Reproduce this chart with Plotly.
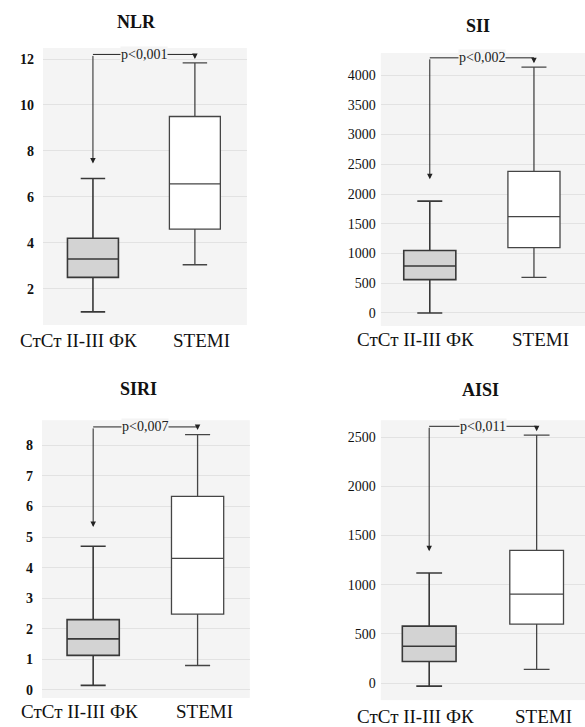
import plotly.graph_objects as go

titles = ["NLR", "SII", "SIRI", "AISI"]
groups = ["СтСт II-III ФК", "STEMI"]
p_texts = ["p<0,001", "p<0,002", "p<0,007", "p<0,011"]

# [СтСт, STEMI] per index
lower_whisker = [[1.0, 3.05], [0, 600], [0.15, 0.8], [-30, 140]]
q1_vals = [[2.5, 4.6], [560, 1100], [1.13, 2.48], [220, 600]]
median_vals = [[3.3, 6.57], [790, 1620], [1.67, 4.3], [375, 905]]
q3_vals = [[4.2, 9.5], [1050, 2380], [2.3, 6.33], [580, 1350]]
upper_whisker = [[6.8, 11.83], [1880, 4135], [4.7, 8.35], [1120, 2520]]

# bracket: left arrow tip, top line, right arrow tip
bracket_left = [7.45, 2250, 5.33, 1340]
bracket_top = [12.2, 4290, 8.6, 2610]
bracket_right = [12.0, 4200, 8.5, 2560]

ytick_vals = [
    [2, 4, 6, 8, 10, 12],
    [0, 500, 1000, 1500, 2000, 2500, 3000, 3500, 4000],
    [0, 1, 2, 3, 4, 5, 6, 7, 8],
    [0, 500, 1000, 1500, 2000, 2500],
]

W, H = 585, 727
x_domains = [[0.0735, 0.422], [0.651, 1.0], [0.0718, 0.427], [0.651, 1.0]]
y_domains = [[0.553, 0.934], [0.5516, 0.927], [0.040, 0.422], [0.037, 0.422]]
x_ranges = [[-0.49, 1.51], [-0.47, 1.49], [-0.49, 1.50], [-0.45, 1.45]]
y_ranges = [[0.43, 12.48], [-219, 4370], [-0.26, 8.82], [-172, 2672]]
title_pos = [(0.2325, 0.970), (0.817, 0.964), (0.2376, 0.465), (0.822, 0.463)]
label_y = [0.531, 0.533, 0.021, 0.015]
tick_bold = [True, False, True, False]

PLOT_BG = "#f4f4f4"
GRID = "#e2e2e2"
SERIF = "Liberation Serif, Times New Roman, serif"

fig = go.Figure()
layout = dict(
    width=W, height=H,
    margin=dict(l=0, r=0, t=0, b=0),
    paper_bgcolor="white",
    plot_bgcolor=PLOT_BG,
    showlegend=False,
)
annotations = []

fills = ["#d3d3d3", "white"]
lines = [dict(color="#383838", width=1.6), dict(color="#454545", width=1.3)]

for i in range(4):
    sfx = "" if i == 0 else str(i + 1)
    xa, ya = "x" + sfx, "y" + sfx
    for g in range(2):
        fig.add_trace(go.Box(
            x=[g], q1=[q1_vals[i][g]], median=[median_vals[i][g]], q3=[q3_vals[i][g]],
            lowerfence=[lower_whisker[i][g]], upperfence=[upper_whisker[i][g]],
            width=0.5, whiskerwidth=0.48, fillcolor=fills[g], line=lines[g],
            boxpoints=False, hoverinfo="skip", xaxis=xa, yaxis=ya,
        ))
    # bracket top line
    fig.add_trace(go.Scatter(
        x=[0, 1], y=[bracket_top[i], bracket_top[i]],
        mode="lines", line=dict(color="#222", width=1), hoverinfo="skip", xaxis=xa, yaxis=ya,
    ))
    # arrows
    for gx, tip in [(0, bracket_left[i]), (1, bracket_right[i])]:
        annotations.append(dict(
            x=gx, y=tip, ax=gx, ay=bracket_top[i], xref=xa, yref=ya, axref=xa, ayref=ya,
            text="", showarrow=True, arrowhead=2, arrowsize=1.1, arrowwidth=1, arrowcolor="#222",
        ))
    annotations.append(dict(
        x=0.5, y=bracket_top[i], xref=xa, yref=ya, text=p_texts[i], showarrow=False,
        xanchor="center", yanchor="middle",
        font=dict(family=SERIF, size=14, color="#222"), bgcolor=PLOT_BG, borderpad=0,
    ))
    # title
    annotations.append(dict(
        x=title_pos[i][0], y=title_pos[i][1], xref="paper", yref="paper", text=titles[i],
        xanchor="center", yanchor="middle", showarrow=False,
        font=dict(family=SERIF, size=18, color="#111", weight="bold"),
    ))
    # group labels
    for g, shift in [(0, -14), (1, 7)]:
        annotations.append(dict(
            x=g, y=label_y[i], xref=xa, yref="paper", xshift=shift, text=groups[g],
            xanchor="center", yanchor="middle", showarrow=False,
            font=dict(family=SERIF, size=19, color="#111"),
        ))
    layout["xaxis" + sfx] = dict(
        domain=x_domains[i], range=x_ranges[i], anchor=ya,
        showticklabels=False, showgrid=False, zeroline=False, showline=False, ticks="",
    )
    tf = dict(family=SERIF, size=14, color="#111")
    if tick_bold[i]:
        tf["weight"] = "bold"
    layout["yaxis" + sfx] = dict(
        domain=y_domains[i], range=y_ranges[i], anchor=xa,
        tickvals=ytick_vals[i], showgrid=True, gridcolor=GRID, gridwidth=1,
        zeroline=False, showline=False, ticks="", ticklabelstandoff=8 if tick_bold[i] else 4,
        tickfont=tf,
    )

layout["annotations"] = annotations
fig.update_layout(**layout)
fig.write_html(
    "out.html",
    config={"displayModeBar": False},
    post_script="document.body.style.margin='0';document.body.style.overflow='hidden';",
)
